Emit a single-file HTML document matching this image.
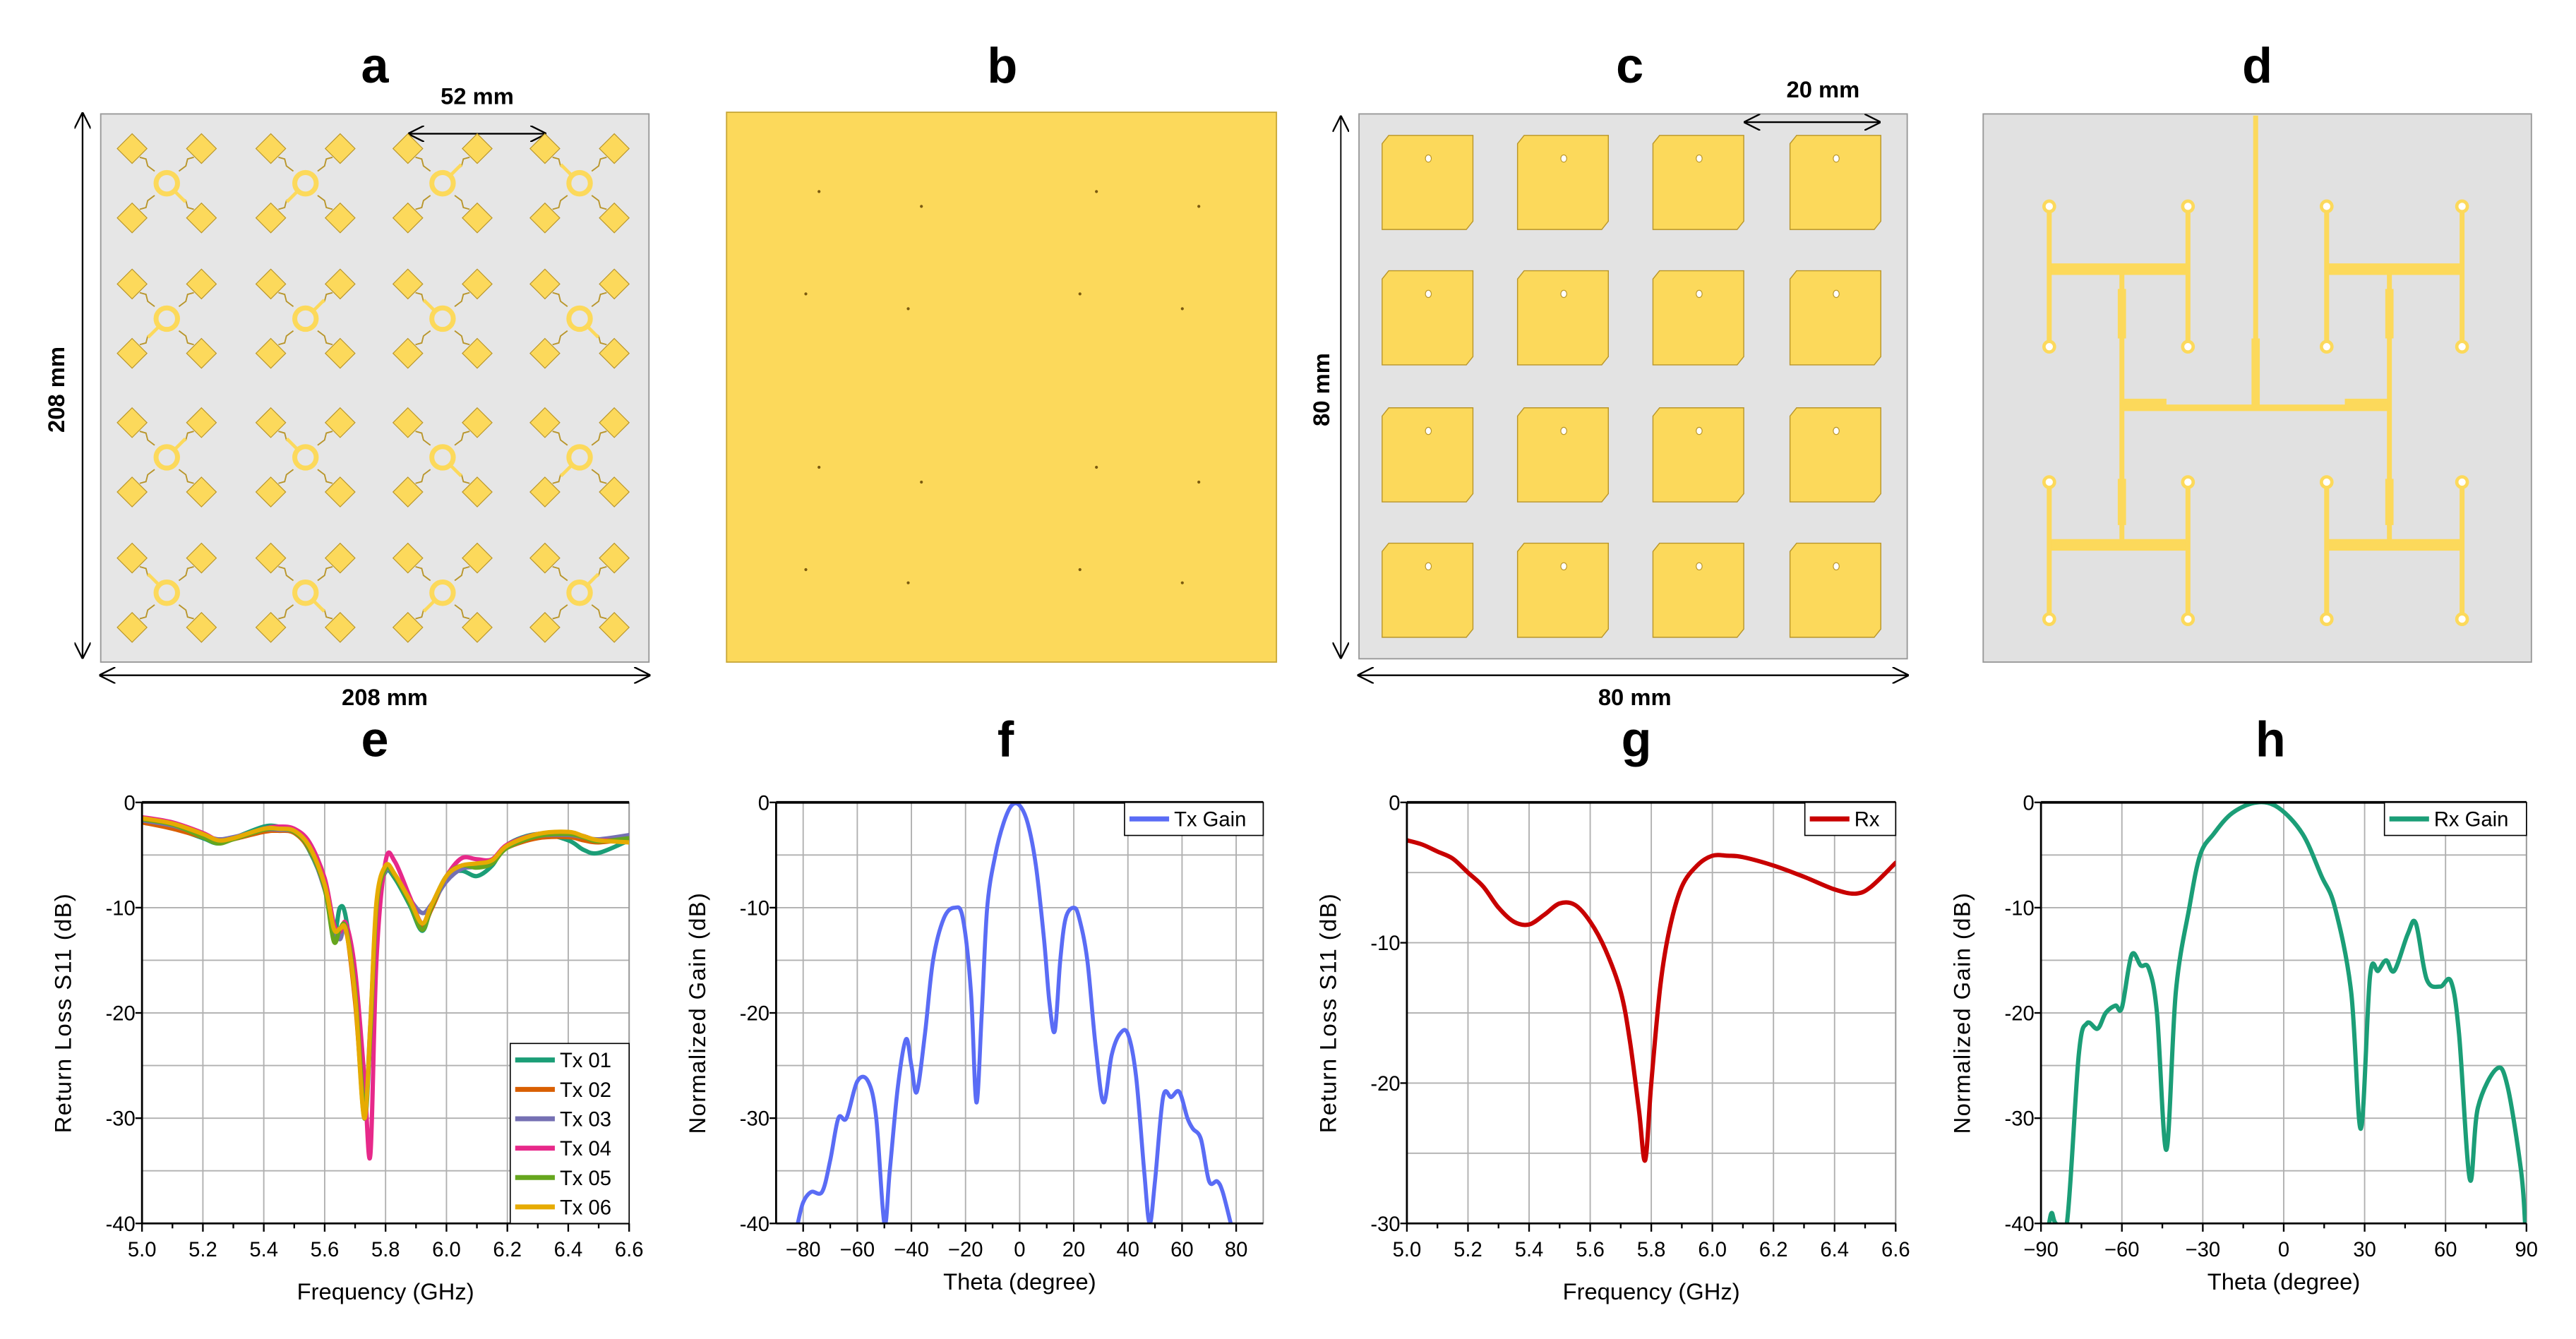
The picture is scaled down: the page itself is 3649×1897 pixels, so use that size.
<!DOCTYPE html>
<html><head><meta charset="utf-8"><style>
html,body{margin:0;padding:0;background:#fff}
svg{display:block}
text{font-family:"Liberation Sans",sans-serif}
</style></head><body>
<svg id="fig" width="3649" height="1897" viewBox="0 0 1560 811" preserveAspectRatio="none" xmlns="http://www.w3.org/2000/svg">
<defs>
<marker id="ah" viewBox="0 0 10 10" refX="9" refY="5" markerWidth="10" markerHeight="10" orient="auto-start-reverse" markerUnits="userSpaceOnUse"><path d="M0,0 L10,5 L0,10" fill="none" stroke="#000" stroke-width="1"/></marker>
</defs>
<g font-weight="bold" font-size="30" text-anchor="middle">
<text x="227" y="50">a</text>
<text x="607" y="50">b</text>
<text x="987" y="50">c</text>
<text x="1367" y="50">d</text>
<text x="227" y="458">e</text>
<text x="609" y="458">f</text>
<text x="991" y="458">g</text>
<text x="1375" y="458">h</text>
</g>
<g id="panelA">
<rect x="61" y="69" width="332" height="332" fill="#e6e6e6" stroke="#999" stroke-width="0.8"/>
<line x1="248" y1="81" x2="330" y2="81" stroke="#000" marker-start="url(#ah)" marker-end="url(#ah)"/>
<text x="289" y="63" font-size="14" font-weight="bold" text-anchor="middle">52 mm</text>
<line x1="50" y1="69" x2="50" y2="398" stroke="#000" marker-start="url(#ah)" marker-end="url(#ah)"/>
<text transform="translate(39,236) rotate(-90)" font-size="14" font-weight="bold" text-anchor="middle">208 mm</text>
<line x1="61" y1="409" x2="393" y2="409" stroke="#000" marker-start="url(#ah)" marker-end="url(#ah)"/>
<text x="233" y="427" font-size="14" font-weight="bold" text-anchor="middle">208 mm</text>
</g>
<g id="panelB">
<rect x="440" y="68" width="333" height="333" fill="#fcd95b" stroke="#c9a93a" stroke-width="0.8"/>
</g>
<g id="panelC">
<rect x="823" y="69" width="332" height="330" fill="#e3e3e3" stroke="#999" stroke-width="0.8"/>
<line x1="1057" y1="74" x2="1138" y2="74" stroke="#000" marker-start="url(#ah)" marker-end="url(#ah)"/>
<text x="1104" y="59" font-size="14" font-weight="bold" text-anchor="middle">20 mm</text>
<line x1="812" y1="71" x2="812" y2="398" stroke="#000" stroke-width="0.8" marker-start="url(#ah)" marker-end="url(#ah)"/>
<text transform="translate(805,236) rotate(-90)" font-size="14" font-weight="bold" text-anchor="middle">80 mm</text>
<line x1="823" y1="409" x2="1155" y2="409" stroke="#000" marker-start="url(#ah)" marker-end="url(#ah)"/>
<text x="990" y="427" font-size="14" font-weight="bold" text-anchor="middle">80 mm</text>
</g>
<g id="panelD">
<rect x="1201" y="69" width="332" height="332" fill="#e1e1e1" stroke="#999" stroke-width="0.8"/>
</g>
<g id="charts"></g>
</svg>
<script>
// ---------- chart e data ----------
const eFreq = [5.0,5.1,5.2,5.25,5.3,5.4,5.45,5.5,5.55,5.6,5.63,5.65,5.67,5.7,5.73,5.75,5.77,5.8,5.83,5.88,5.92,5.95,6.0,6.05,6.1,6.15,6.2,6.3,6.4,6.45,6.5,6.6];
const tx01 = [-1.8,-2.4,-3.4,-3.9,-3.4,-2.3,-2.3,-2.7,-4.6,-8.2,-12.5,-10,-11,-18,-30,-22,-10,-6.6,-7.2,-9.8,-12.2,-10,-7,-6.5,-7,-6,-4,-3,-3.6,-4.5,-4.8,-3.6];
const tx02 = [-1.9,-2.5,-3.3,-3.7,-3.5,-2.8,-2.7,-2.9,-4.5,-8,-12,-12,-12,-19,-29,-22,-10,-6.4,-7,-9.5,-11.8,-10.2,-7.2,-6,-6,-5.5,-4.3,-3.4,-3.3,-3.6,-3.8,-3.5];
const tx03 = [-1.7,-2.2,-3.1,-3.5,-3.3,-2.6,-2.6,-2.8,-4.4,-8.3,-12,-13,-12,-18,-29.5,-21,-10,-6.5,-7,-9.2,-10.5,-9.7,-7.5,-6.3,-6.1,-5.5,-4.2,-3.2,-3.1,-3.3,-3.5,-3.1];
const tx04 = [-1.4,-1.9,-2.9,-3.6,-3.4,-2.5,-2.3,-2.5,-3.8,-7.2,-11.5,-12.3,-11.5,-16,-26,-33.5,-15,-5.6,-5.6,-9,-11.5,-9.8,-7,-5.3,-5.4,-5.4,-4,-3,-2.9,-3.2,-3.6,-3.5];
const tx05 = [-1.6,-2.1,-3.3,-3.9,-3.5,-2.6,-2.5,-2.8,-4.4,-8.2,-13.2,-12,-12,-18,-29,-22,-10,-6.3,-7,-9.6,-12.1,-10,-7,-6,-6.2,-5.8,-4.3,-3.2,-3,-3.3,-3.7,-3.4];
const tx06 = [-1.5,-2.0,-3.0,-3.6,-3.4,-2.5,-2.5,-2.7,-4.2,-7.8,-12,-12,-12.2,-18.5,-30,-21,-9.5,-6,-6.8,-9.3,-11.5,-9.8,-7,-6,-5.8,-5.5,-4.1,-3,-2.8,-3.2,-3.6,-3.8];
const eTicksX = ["5.0","5.2","5.4","5.6","5.8","6.0","6.2","6.4","6.6"];
const eTicksY = ["0","-10","-20","-30","-40"];
const eLegend = ["Tx 01","Tx 02","Tx 03","Tx 04","Tx 05","Tx 06"];
// ---------- chart f data ----------
const fTheta = [-82,-80,-77,-73,-70,-67,-64,-60,-56,-53,-50,-48,-45,-42,-40,-38,-35,-32,-28,-24,-21,-18,-16,-14,-12,-9,-6,-3,0,3,6,9,11,13,15,17,20,22,25,28,31,34,37,40,43,46,48,50,53,56,59,62,64,67,70,73,75,78];
const fGain = [-40,-38,-37,-37,-34,-30,-30,-26.5,-26.5,-30,-40,-35,-27,-22.5,-25,-27.5,-22,-15,-11,-10,-11,-18,-28.5,-20,-10,-5,-2,-0.3,-0.3,-2,-6,-13,-19,-21.7,-15,-11,-10,-11,-15,-23,-28.5,-24,-22,-22,-26,-35,-40,-36,-28,-28,-27.5,-30,-31,-32,-36,-36,-37,-40];
const fTicksX = ["-80","-60","-40","-20","0","20","40","60","80"];
const fTicksY = ["0","-10","-20","-30","-40"];
// ---------- chart g data ----------
const gFreq = [5.0,5.05,5.1,5.15,5.2,5.25,5.3,5.35,5.4,5.45,5.5,5.55,5.6,5.65,5.7,5.73,5.76,5.78,5.8,5.83,5.86,5.9,5.95,6.0,6.05,6.1,6.2,6.3,6.4,6.47,6.52,6.6];
const gS11 = [-2.7,-3,-3.5,-4,-5,-6,-7.5,-8.5,-8.7,-8,-7.2,-7.3,-8.5,-10.5,-13.5,-17,-22,-25.5,-20,-13,-9,-6,-4.5,-3.8,-3.8,-3.9,-4.5,-5.3,-6.2,-6.5,-6,-4.3];
const gTicksX = ["5.0","5.2","5.4","5.6","5.8","6.0","6.2","6.4","6.6"];
const gTicksY = ["0","-10","-20","-30"];
// ---------- chart h data ----------
const hTheta = [-87,-86,-84.5,-80.4,-76,-73,-69,-66,-62.4,-60,-56.4,-53,-50,-47,-43.5,-40,-35,-31,-26,-19,-10,-2,7,14,19,25,28.6,32,35,38,41,46,49,53,58,62,65,69,72,79,83,88,89.5];
const hGain = [-40,-39,-40,-40,-24,-21,-21.5,-20,-19.3,-19.5,-14.5,-15.5,-15.8,-20,-33,-18,-10,-5,-3,-1,0,-0.5,-3,-7,-10,-18,-31,-16.5,-16,-15,-16,-12.5,-11.5,-16.8,-17.5,-17,-22,-35.8,-29,-25.3,-27,-35,-40];
const hTicksX = ["-90","-60","-30","0","30","60","90"];
const hTicksY = ["0","-10","-20","-30","-40"];

const NS="http://www.w3.org/2000/svg";
function mk(tag,attrs,parent){const e=document.createElementNS(NS,tag);for(const k in attrs)e.setAttribute(k,attrs[k]);if(parent)parent.appendChild(e);return e;}
const root=document.getElementById('charts');

function smoothPath(p){
  let d='M'+p[0][0].toFixed(2)+','+p[0][1].toFixed(2);
  for(let i=0;i<p.length-1;i++){
    const p0=p[Math.max(0,i-1)],p1=p[i],p2=p[i+1],p3=p[Math.min(p.length-1,i+2)];
    const c1x=p1[0]+(p2[0]-p0[0])/6,c1y=p1[1]+(p2[1]-p0[1])/6;
    const c2x=p2[0]-(p3[0]-p1[0])/6,c2y=p2[1]-(p3[1]-p1[1])/6;
    d+=' C'+c1x.toFixed(2)+','+c1y.toFixed(2)+' '+c2x.toFixed(2)+','+c2y.toFixed(2)+' '+p2[0].toFixed(2)+','+p2[1].toFixed(2);
  }
  return d;
}

function chart(o){
  const g=mk('g',{},root);
  
  
  const sx=v=>o.x0+(v-o.xmin)/(o.xmax-o.xmin)*(o.x1-o.x0);
  const sy=v=>o.y0+(v-o.ymax)/(o.ymin-o.ymax)*(o.y1-o.y0);
  const clip='clip'+o.id;
  const cp=mk('clipPath',{id:clip},g);mk('rect',{x:o.x0,y:o.y0,width:o.x1-o.x0,height:o.y1-o.y0},cp);
  o.ticksX.forEach(t=>{const x=sx(+t);mk('line',{x1:x,y1:o.y0,x2:x,y2:o.y1,stroke:'#b0b0b0','stroke-width':0.8},g);});
  for(let v=o.ymax;v>=o.ymin;v-=o.ystep/2){const y=sy(v);mk('line',{x1:o.x0,y1:y,x2:o.x1,y2:y,stroke:'#b0b0b0','stroke-width':0.8},g);}
  mk('line',{x1:o.x1,y1:o.y0,x2:o.x1,y2:o.y1,stroke:'#999','stroke-width':0.8},g);
  o.series.forEach((s,i)=>{
    const pts=s.x.map((xv,j)=>[sx(xv),sy(s.y[j])]);
    const pl=mk('path',{d:smoothPath(pts),fill:'none',stroke:s.color,'stroke-width':o.sw,'stroke-linejoin':'round','stroke-linecap':'round','clip-path':'url(#'+clip+')'},g);
    
    
  });
  mk('line',{x1:o.x0,y1:o.y0,x2:o.x1,y2:o.y0,stroke:'#000','stroke-width':1.6},g);
  mk('line',{x1:o.x0,y1:o.y0,x2:o.x0,y2:o.y1,stroke:'#000','stroke-width':1.2},g);
  mk('line',{x1:o.x0,y1:o.y1,x2:o.x1,y2:o.y1,stroke:'#000','stroke-width':1.2},g);
  o.ticksX.forEach((t,i)=>{const x=sx(+t);mk('line',{x1:x,y1:o.y1,x2:x,y2:o.y1+5,stroke:'#000'},g);
    const tx=mk('text',{x:x,y:o.y1+20,'font-size':12.5,'text-anchor':'middle'},g);tx.textContent=t.replace('-','\u2212');
    
    if(i<o.ticksX.length-1){const xm=sx((+t + +o.ticksX[i+1])/2);mk('line',{x1:xm,y1:o.y1,x2:xm,y2:o.y1+3,stroke:'#000'},g);}
  });
  o.ticksY.forEach(t=>{const y=sy(+t);mk('line',{x1:o.x0-4,y1:y,x2:o.x0,y2:y,stroke:'#000'},g);
    const ty=mk('text',{x:o.x0-4,y:y+4.5,'font-size':12.5,'text-anchor':'end'},g);ty.textContent=t;
    });
  const xt=mk('text',{x:(o.x0+o.x1)/2,y:o.xtY,'font-size':14,'text-anchor':'middle'},g);xt.textContent=o.xtitle;
  
  const yt=mk('text',{transform:'translate('+o.ytX+','+(o.y0+o.y1)/2+') rotate(-90)','font-size':14,'text-anchor':'middle','letter-spacing':'0.6'},g);yt.textContent=o.ytitle;
  
  const L=o.legend;const lg=mk('g',{},g);
  
  mk('rect',{x:L.x,y:L.y,width:L.w,height:L.h,fill:'#fff',stroke:'#000','stroke-width':0.7},lg);
  o.series.forEach((s,i)=>{const yy=L.y+L.first+i*L.step;
    const le=mk('g',{},lg);
    mk('line',{x1:L.x+3,y1:yy,x2:L.x+27,y2:yy,stroke:s.color,'stroke-width':3},le);
    const t=mk('text',{x:L.x+30,y:yy+4.5,'font-size':12.5},le);t.textContent=s.label;});
}
const sxE=[tx01,tx02,tx03,tx04,tx05,tx06];
const colE=['#1b9e77','#d95f02','#7570b3','#e7298a','#66a61e','#e6ab02'];
chart({id:'e',name:'chart-e-tx-s11',x0:86,x1:381,y0:486,y1:741,xmin:5,xmax:6.6,ymin:-40,ymax:0,ystep:10,sw:2.6,
  ticksX:eTicksX,ticksY:eTicksY,xtitle:'Frequency (GHz)',ytitle:'Return Loss S11 (dB)',xtY:787,ytX:43,
  series:eLegend.map((l,i)=>({label:l,x:eFreq,y:sxE[i],color:colE[i]})),
  legend:{x:309,y:632,w:72,h:109,first:10,step:17.8}});
chart({id:'f',name:'chart-f-tx-gain',x0:470,x1:765,y0:486,y1:741,xmin:-90,xmax:90,ymin:-40,ymax:0,ystep:10,sw:2.4,
  ticksX:fTicksX,ticksY:fTicksY,xtitle:'Theta (degree)',ytitle:'Normalized Gain (dB)',xtY:781,ytX:427,
  series:[{label:'Tx Gain',x:fTheta,y:fGain,color:'#5a6cf5'}],
  legend:{x:681,y:486,w:84,h:20,first:10,step:18}});
chart({id:'g',name:'chart-g-rx-s11',x0:852,x1:1148,y0:486,y1:741,xmin:5,xmax:6.6,ymin:-30,ymax:0,ystep:10,sw:2.6,
  ticksX:gTicksX,ticksY:gTicksY,xtitle:'Frequency (GHz)',ytitle:'Return Loss S11 (dB)',xtY:787,ytX:809,
  series:[{label:'Rx',x:gFreq,y:gS11,color:'#c80000'}],
  legend:{x:1093,y:486,w:55,h:20,first:10,step:18}});
chart({id:'h',name:'chart-h-rx-gain',x0:1236,x1:1530,y0:486,y1:741,xmin:-90,xmax:90,ymin:-40,ymax:0,ystep:10,sw:2.6,
  ticksX:hTicksX,ticksY:hTicksY,xtitle:'Theta (degree)',ytitle:'Normalized Gain (dB)',xtY:781,ytX:1193,
  series:[{label:'Rx Gain',x:hTheta,y:hGain,color:'#1b9e77'}],
  legend:{x:1444,y:486,w:86,h:20,first:10,step:18}});

// ---------- panel drawings ----------
const Y='#fcd95b',YS='#b8952a';
const pa=document.getElementById('panelA');
const aCx=[101,185,268,351],aCy=[111,193,277,359];
aCy.forEach((cy,r)=>aCx.forEach((cx,c)=>{
  const el=mk('g',{},pa);
  
  
  [[-21,-21],[21,-21],[-21,21],[21,21]].forEach(([dx,dy])=>{
    mk('polyline',{points:`${cx+dx*0.35},${cy+dy*0.35} ${cx+dx*0.55},${cy+dy*0.5} ${cx+dx*0.6},${cy+dy*0.7} ${cx+dx*0.78},${cy+dy*0.75}`,fill:'none',stroke:YS,'stroke-width':0.8},el);
    const px=cx+dx,py=cy+dy;
    mk('polygon',{points:`${px},${py-9} ${px+9},${py} ${px},${py+9} ${px-9},${py}`,fill:Y,stroke:YS,'stroke-width':0.5},el);
  });
  mk('circle',{cx:cx,cy:cy,r:6.5,fill:'none',stroke:Y,'stroke-width':3},el);
  const ang=[45,135,-45,-135][(r+c)%4]*Math.PI/180;
  mk('line',{x1:cx+6*Math.cos(ang),y1:cy+6*Math.sin(ang),x2:cx+16*Math.cos(ang),y2:cy+16*Math.sin(ang),stroke:Y,'stroke-width':2},el);
}));
const pb=document.getElementById('panelB');
[[496,116],[558,125],[664,116],[726,125],[488,178],[550,187],[654,178],[716,187],[496,283],[558,292],[664,283],[726,292],[488,345],[550,353],[654,345],[716,353]].forEach(([x,y])=>{
  const d=mk('circle',{cx:x,cy:y,r:0.9,fill:'#7a5a10'},pb);
  
  
});
const pc=document.getElementById('panelC');
[837,919,1001,1084].forEach(x=>[82,164,247,329].forEach(y=>{
  const el=mk('g',{},pc);
  
  
  mk('polygon',{points:`${x+4},${y} ${x+55},${y} ${x+55},${y+52} ${x+51},${y+57} ${x},${y+57} ${x},${y+5}`,fill:Y,stroke:YS,'stroke-width':0.6},el);
  mk('ellipse',{cx:x+28,cy:y+14,rx:1.8,ry:2.2,fill:'#fff',stroke:YS,'stroke-width':0.5},el);
}));
const pd=document.getElementById('panelD');
function tr(x1,y1,x2,y2,w){mk('line',{x1,y1,x2,y2,stroke:Y,'stroke-width':w,'stroke-linecap':'butt'},pd);}
tr(1366,70,1366,247,3);tr(1366,205,1366,247,5);
tr(1284,247,1448,247,4);tr(1286,245,1312,245,7);tr(1420,245,1446,245,7);
tr(1285,163,1285,330,3);tr(1447,163,1447,330,3);
tr(1285,175,1285,205,5);tr(1447,175,1447,205,5);tr(1285,290,1285,318,5);tr(1447,290,1447,318,5);
[[1283,163,1241,1325,125,210],[1450,163,1409,1491,125,210],[1283,330,1241,1325,292,375],[1450,330,1409,1491,292,375]].forEach(([cx,cy,xl,xr,yt,yb])=>{
  tr(xl,cy,xr,cy,7);
  tr(xl,yt,xl,yb,3);tr(xr,yt,xr,yb,3);
  [[xl,yt],[xr,yt],[xl,yb],[xr,yb]].forEach(([x,y])=>{
    const c=mk('circle',{cx:x,cy:y,r:3.2,fill:'#fff',stroke:Y,'stroke-width':2},pd);
    
    
  });
});
</script>
</body></html>
